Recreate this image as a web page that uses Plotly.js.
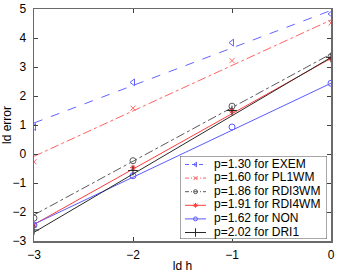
<!DOCTYPE html>
<html><head><meta charset="utf-8">
<script src="https://cdn.plot.ly/plotly-3.0.1.min.js"></script>
<style>html,body{margin:0;padding:0;background:#fff;}#plot{width:337px;height:273px;}</style>
</head><body><div id="plot"></div>
<script>
const xs = [-3, -2, -1, 0];
const names = ["p=1.30 for EXEM", "p=1.60 for PL1WM", "p=1.86 for RDI3WM", "p=1.91 for RDI4WM", "p=1.62 for NON", "p=2.02 for DRI1"];
const exem  = [0.93, 2.47, 3.84, 4.83];
const pl1wm = [-0.27, 1.58, 3.22, 4.52];
const rdi3  = [-2.21, -0.23, 1.65, 3.36];
const rdi4  = [-2.45, -0.47, 1.48, 3.29];
const non   = [-2.45, -0.75, 0.93, 2.44];
const dri1  = [-2.62, -0.57, 1.50, 3.33];
const fitX = [-3, 0];
const fitExem = [1.07, 4.95];
const fitPl1 = [-0.08, 4.62];
const fitRdi3 = [-2.1, 3.45];
const fitRdi4 = [-2.43, 3.3];
const fitNon = [-2.42, 2.44];
const fitDri1 = [-2.7, 3.33];
const yTicks = [-3, -2, -1, 0, 1, 2, 3, 4, 5];
const xTicks = [-3, -2, -1, 0];

const styles = [
  {c:'rgb(100,100,255)', dash:'dash', sym:'triangle-left-open', sz:6, lsz:4},
  {c:'rgb(255,100,100)', dash:'dashdot', sym:'x-thin-open', sz:5, lsz:4},
  {c:'rgb(90,90,90)', dash:'dashdot', sym:'circle-open', sz:6, lsz:4},
  {c:'rgb(255,60,60)', dash:'solid', sym:'asterisk-open', sz:5, lsz:4},
  {c:'rgb(90,90,255)', dash:'solid', sym:'circle-open', sz:6, lsz:4},
  {c:'rgb(40,40,40)', dash:'solid', sym:'cross-thin-open', sz:7, lsz:6}
];
const data = [exem, pl1wm, rdi3, rdi4, non, dri1];
const fits = [fitExem, fitPl1, fitRdi3, fitRdi4, fitNon, fitDri1];
const fmt = v => (v < 0 ? '−' + Math.abs(v) : String(v));
const traces = [];
for (let i = 0; i < 6; i++) {
  const s = styles[i];
  traces.push({x: fitX, y: fits[i], mode:'lines', line:{color:s.c, width:1, dash:s.dash}, showlegend:false, hoverinfo:'skip'});
  traces.push({x: xs, y: data[i], mode:'markers', marker:{symbol:s.sym, size:s.sz, color:s.c, line:{color:s.c, width:1}}, showlegend:false});
}
// custom legend box on an overlay axis (pixel-like units)
const LW = 147, LH = 83;
traces.push({x:[0, LW, LW, 0, 0], y:[0, 0, LH, LH, 0], xaxis:'x2', yaxis:'y2', mode:'lines', fill:'toself', fillcolor:'#fff', line:{color:'#505050', width:1}, showlegend:false, hoverinfo:'skip'});
const rowY = i => 8.5 + 13.6 * i;
for (let i = 0; i < 6; i++) {
  const s = styles[i];
  traces.push({x:[5, 26], y:[rowY(i), rowY(i)], xaxis:'x2', yaxis:'y2', mode:'lines', line:{color:s.c, width:1, dash:s.dash === 'solid' ? 'solid' : (s.dash === 'dash' ? '4px,3px' : '4px,2px,1px,2px')}, showlegend:false, hoverinfo:'skip'});
  traces.push({x:[15.5], y:[rowY(i)], xaxis:'x2', yaxis:'y2', mode:'markers+text', text:[''], marker:{symbol:s.sym, size:s.lsz, color:s.c, line:{color:s.c, width:1}}, showlegend:false, hoverinfo:'skip'});
  traces.push({x:[34], y:[rowY(i)], xaxis:'x2', yaxis:'y2', mode:'text', text:[names[i]], textposition:'middle right', textfont:{size:12, color:'#000'}, showlegend:false, hoverinfo:'skip'});
}
const axisCommon = {showgrid:false, zeroline:false, showline:true, mirror:'ticks', linecolor:'#6a6a6a', linewidth:1.5, ticks:'inside', ticklen:4, tickcolor:'#404040', tickfont:{size:12, color:'#000'}};
const L = 34, R = 331, T = 9, B = 241, W = 337, H = 273;
const px = v => (v - L) / (R - L);
const py = v => (B - v) / (B - T);
const layout = {
  width:W, height:H, margin:{l:L, r:W - R, t:T, b:H - B},
  paper_bgcolor:'#fff', plot_bgcolor:'#fff',
  font:{family:'Liberation Sans, Arial, sans-serif', size:12, color:'#000'},
  xaxis: Object.assign({}, axisCommon, {range:[-3,0], tickvals:xTicks, ticktext:xTicks.map(fmt), ticklabelstandoff:2, title:{text:'ld h', standoff:2, font:{size:12}}}),
  yaxis: Object.assign({}, axisCommon, {range:[-3,5], tickvals:yTicks, ticktext:yTicks.map(fmt), ticklabelstandoff:4, title:{text:'ld error', standoff:2, font:{size:12}}}),
  xaxis2:{domain:[px(180), px(327)], range:[0, LW], visible:false, anchor:'y2', fixedrange:true},
  yaxis2:{domain:[py(239), py(156)], range:[LH, 0], visible:false, anchor:'x2', fixedrange:true},
  showlegend:false
};
Plotly.newPlot('plot', traces, layout, {staticPlot:true, displayModeBar:false});
</script></body></html>
